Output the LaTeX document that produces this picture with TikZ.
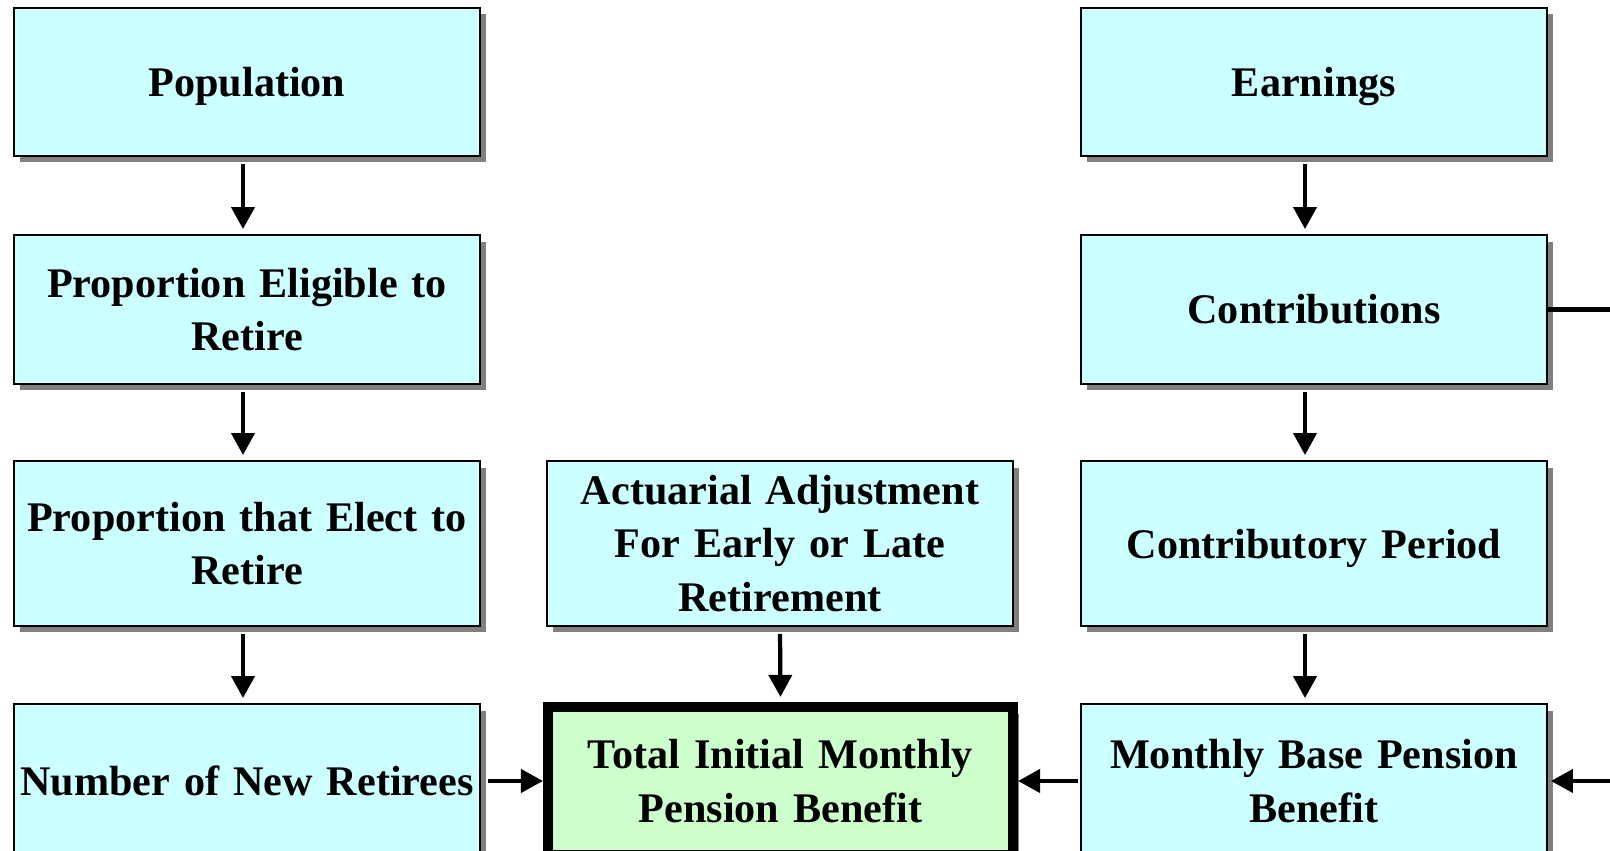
\documentclass[tikz,border=0pt]{standalone}
\usepackage{fontspec}
\setmainfont{Liberation Serif}
\usetikzlibrary{arrows.meta,shadows}

\definecolor{boxcyan}{HTML}{CCFFFF}
\definecolor{boxgreen}{HTML}{CCFFCC}

\tikzset{
  box/.style={draw, line width=1.1pt, fill=boxcyan, minimum width=9.32cm,
    text width=9.3cm, align=center, inner sep=0pt,
    font=\bfseries\fontsize{24}{30.5}\selectfont,
    drop shadow={shadow xshift=0.12cm, shadow yshift=-0.13cm, fill=black!50, opacity=1}},
  oneline/.style={text depth=0pt},
  totalbox/.style={box, line width=5.8pt, fill=boxgreen, minimum width=9.22cm,
    minimum height=2.96cm},
  arr/.style={line width=2.4pt, -{Triangle[width=0.46cm,length=0.44cm]},
    shorten <=0.14cm, shorten >=0.1cm}
}

\begin{document}
\begin{tikzpicture}[x=0.02cm,y=0.02cm]
  % Frame
  \useasboundingbox (0,0) rectangle (1610,851);
  \clip (0,0) rectangle (1610,851);
  % Left column
  \node[box, oneline, minimum height=2.96cm] (pop) at (247,769) {Population};
  \node[box, minimum height=2.98cm] (elig) at (247,541.5) {Proportion Eligible to\\Retire};
  \node[box, minimum height=3.3cm] (elect) at (247,307.5) {Proportion that Elect to\\Retire};
  \node[box, minimum height=3.08cm] (newret) at (247,70) {Number of New Retirees};
  % Middle column
  \node[box, minimum height=3.3cm] (actu) at (780,307.5) {Actuarial Adjustment\\For Early or Late\\Retirement};
  \node[totalbox] (total) at (780.5,70) {Total Initial Monthly\\Pension Benefit};
  % Right column
  \node[box, oneline, minimum height=2.96cm] (earn) at (1314,769) {Earnings};
  \node[box, minimum height=2.98cm] (contr) at (1314,541.5) {Contributions};
  \node[box, oneline, minimum height=3.3cm] (period) at (1314,307.5) {Contributory Period};
  \node[box, minimum height=3.08cm] (monthly) at (1314,70) {Monthly Base Pension\\Benefit};
  % Loose ends at the right edge
  \coordinate (outR) at (1610,541.5);
  \coordinate (inR) at (1610,70);
  % Downward arrows
  \foreach \a/\b in {pop/elig, elig/elect, elect/newret}
    \draw[arr] ([xshift=-0.08cm]\a.south) -- ([xshift=-0.08cm]\b.north);
  \foreach \a/\b in {earn/contr, contr/period, period/monthly}
    \draw[arr] ([xshift=-0.18cm]\a.south) -- ([xshift=-0.18cm]\b.north);
  \draw[arr] (actu.south) -- (total.north);
  % Into the total
  \draw[arr, shorten >=0pt] (newret.east) -- (total.west);
  \draw[arr, shorten <=0.04cm, shorten >=0pt] (monthly.west) -- (total.east);
  \draw[line width=2.4pt] (contr.east) -- (outR);
  \draw[arr, shorten <=0pt, shorten >=0.06cm] (inR) -- (monthly.east);
\end{tikzpicture}
\end{document}
